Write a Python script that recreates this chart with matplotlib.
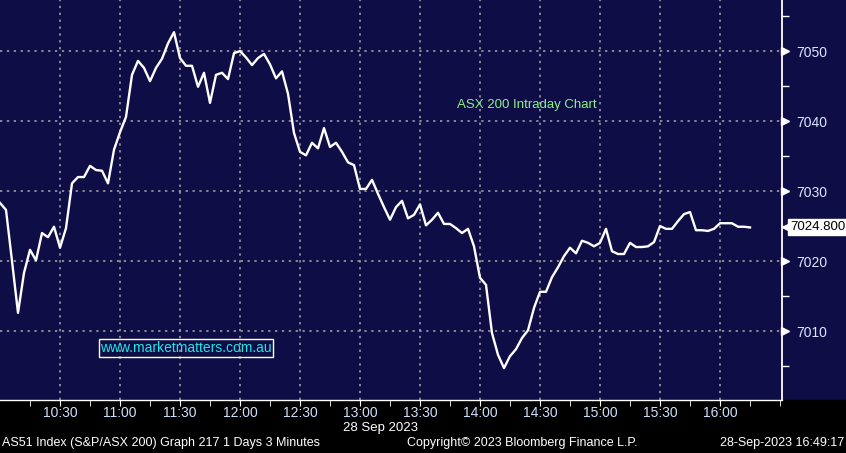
import numpy as np
import matplotlib
matplotlib.use("Agg")
import matplotlib.pyplot as plt
import matplotlib.transforms as mtransforms
from matplotlib.patches import Rectangle

# ASX 200, 28 Sep 2023, 3 minute bars starting 10:00
start_hour = 10
bar_minutes = 3
values = [
    7028.3, 7027.3, 7020.0, 7012.6, 7018.3, 7021.6, 7020.1, 7024.0, 7023.4, 7024.9,
    7021.9, 7024.7, 7031.1, 7032.0, 7032.0, 7033.6, 7033.0, 7032.9, 7031.1, 7035.9,
    7038.4, 7040.6, 7046.6, 7048.6, 7047.6, 7045.7, 7047.6, 7048.9, 7051.1, 7052.7,
    7049.0, 7047.9, 7047.9, 7044.9, 7046.9, 7042.6, 7046.6, 7046.9, 7046.0, 7049.7,
    7050.0, 7049.1, 7048.0, 7049.0, 7049.6, 7048.1, 7046.1, 7047.1, 7043.9, 7038.3,
    7035.6, 7035.1, 7036.9, 7036.1, 7039.0, 7036.3, 7036.9, 7035.6, 7034.1, 7033.7,
    7030.3, 7030.3, 7031.6, 7029.6, 7027.7, 7025.9, 7027.7, 7028.6, 7026.1, 7026.6,
    7028.1, 7025.1, 7025.9, 7026.9, 7025.3, 7025.3, 7024.7, 7024.0, 7024.6, 7022.1,
    7017.6, 7016.6, 7009.7, 7006.6, 7004.7, 7006.4, 7007.4, 7009.0, 7010.1, 7013.3,
    7015.6, 7015.6, 7017.7, 7019.1, 7020.7, 7021.9, 7021.1, 7022.9, 7022.6, 7022.1,
    7022.6, 7024.6, 7021.4, 7021.0, 7021.0, 7022.6, 7022.0, 7022.0, 7022.1, 7022.7,
    7025.0, 7024.6, 7024.6, 7025.7, 7026.7, 7027.0, 7024.4, 7024.4, 7024.3, 7024.6,
    7025.4, 7025.4, 7025.4, 7024.9, 7024.9, 7024.8,
]
time_labels = ["10:30", "11:00", "11:30", "12:00", "12:30", "13:00",
               "13:30", "14:00", "14:30", "15:00", "15:30", "16:00"]
price_ticks = [7010, 7020, 7030, 7040, 7050]
date_label = "28 Sep 2023"
title = "ASX 200 Intraday Chart"
watermark = "www.marketmatters.com.au"
footer_left = "AS51 Index (S&P/ASX 200) Graph 217 1 Days 3 Minutes"
footer_mid = "Copyright\u00a9 2023 Bloomberg Finance L.P."
footer_right = "28-Sep-2023 16:49:17"

navy = "#0f0d46"
plt.rcParams["font.family"] = ["Liberation Sans", "DejaVu Sans"]


def main():
    fig = plt.figure(figsize=(8.46, 4.53), dpi=100, facecolor=navy)
    fig.add_artist(Rectangle((0, 0), 1, 53 / 453, transform=fig.transFigure,
                             color="black", zorder=-1))
    ax = fig.add_axes([0, 53 / 453, 782 / 846, 400 / 453], facecolor=navy)

    minutes = np.arange(len(values)) * bar_minutes
    ax.plot(minutes, values, color="white", lw=1.7, zorder=3)

    tick_min = [(int(t[:2]) - start_hour) * 60 + int(t[3:]) for t in time_labels]
    ax.set_xlim(0, 391)
    ax.set_ylim(7000.14, 7057.3)

    ax.set_xticks(tick_min)
    ax.set_xticklabels(time_labels, fontsize=10, color="#cfe0ff")
    ax.set_xticks(np.arange(15, 391, 15), minor=True)
    ax.tick_params(axis="x", which="both", direction="out", length=4,
                   color="white", pad=0.5)

    ax.yaxis.tick_right()
    ax.set_yticks(price_ticks)
    ax.set_yticklabels([str(p) for p in price_ticks], fontsize=10, color="#dbe6ff")
    ax.set_yticks(np.arange(7005, 7056, 10), minor=True)
    ax.tick_params(axis="y", which="major", length=0, pad=10)
    ax.tick_params(axis="y", which="minor", length=5, width=1, color="white",
                   direction="out")

    ax.grid(True, which="major", color="#a8a8a8", lw=1.1, ls=(0, (1.5, 3)))

    for side in ["left", "top"]:
        ax.spines[side].set_visible(False)
    ax.spines["right"].set_color("white")
    ax.spines["right"].set_linewidth(1.3)
    ax.spines["bottom"].set_color("white")
    ax.spines["bottom"].set_linewidth(1)
    ax.spines["bottom"].set_linestyle((0, (2, 1)))

    # triangle markers on the price axis
    trans = mtransforms.blended_transform_factory(ax.transAxes, ax.transData)
    tri = mtransforms.offset_copy(trans, fig=fig, x=3, y=0, units="dots")
    ax.plot(np.ones(len(price_ticks)), price_ticks, ls="none", marker=">",
            ms=6, color="white", transform=tri, clip_on=False)

    # last price tag
    last = values[-1]
    tag = mtransforms.offset_copy(trans, fig=fig, x=8, y=0, units="dots")
    ax.text(1, last, f"{last:.3f}", transform=tag, fontsize=9.5, color="black",
            ha="left", va="center", clip_on=False,
            bbox=dict(boxstyle="square,pad=0.15", fc="white", ec="white"))
    arrow = mtransforms.offset_copy(trans, fig=fig, x=6, y=0, units="dots")
    ax.plot([1], [last], ls="none", marker="<", ms=8, color="white",
            transform=arrow, clip_on=False)

    ax.text(527 / 782, 1 - 105 / 400, title, transform=ax.transAxes,
            ha="center", va="center", fontsize=9.5, color="#8af08a")
    ax.text(186 / 782, 1 - 348 / 400, watermark, transform=ax.transAxes,
            ha="center", va="center", fontsize=10, color="#1fe6e6",
            bbox=dict(boxstyle="square,pad=0.12", fc="none", ec="white", lw=1))

    fig.text(380 / 846, 1 - 428 / 453, date_label, ha="center", va="center",
             fontsize=9.5, color="white")
    fig.text(2 / 846, 1 - 443 / 453, footer_left, ha="left", va="center",
             fontsize=9, color="white")
    fig.text(522 / 846, 1 - 443 / 453, footer_mid, ha="center", va="center",
             fontsize=9, color="white")
    fig.text(844 / 846, 1 - 443 / 453, footer_right, ha="right", va="center",
             fontsize=9, color="white")

    fig.savefig("out.png", dpi=100, facecolor=navy)


if __name__ == "__main__":
    main()
